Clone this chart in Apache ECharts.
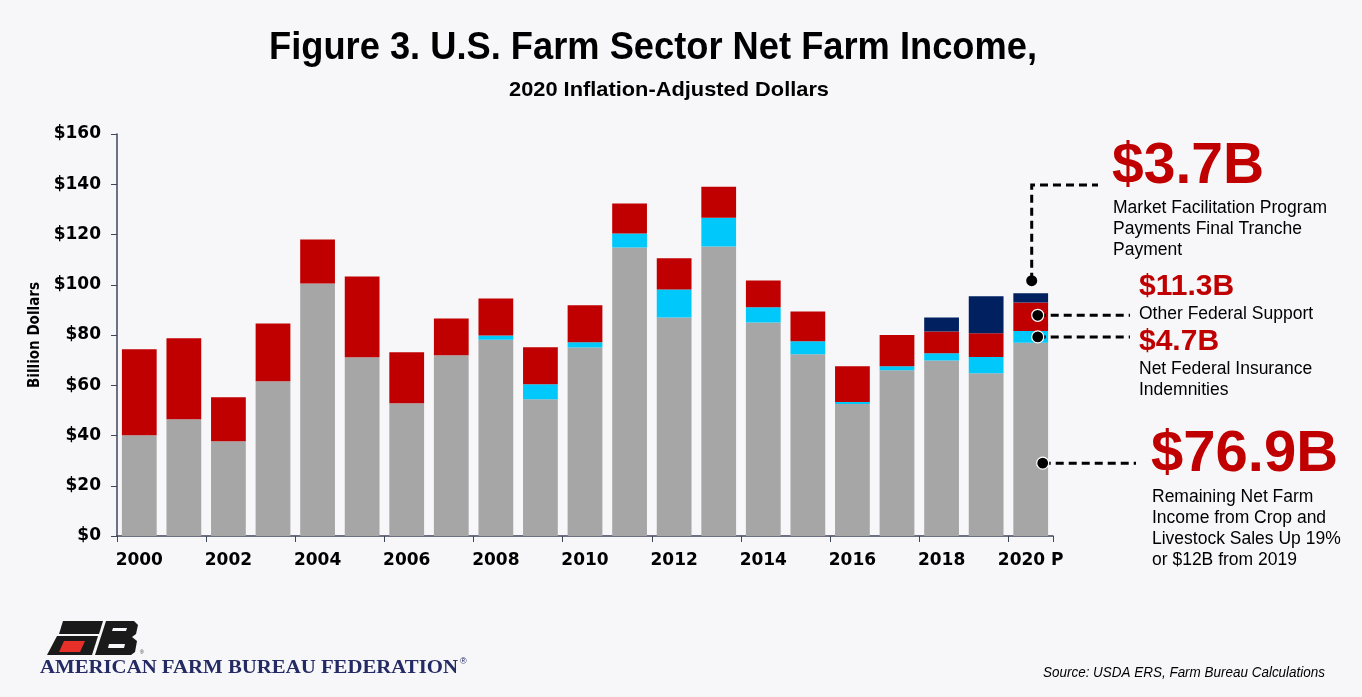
<!DOCTYPE html>
<html>
<head>
<meta charset="utf-8">
<script src="https://cdn.jsdelivr.net/npm/echarts@6/dist/echarts.min.js"></script>
<style>
  html, body { margin: 0; padding: 0; background: #f7f7f9; }
  #main { width: 1362px; height: 697px; }
</style>
</head>
<body>
<div id="main"></div>
<script>
// years on the x axis, last one is the projection
var years = ['2000','2001','2002','2003','2004','2005','2006','2007','2008','2009','2010',
             '2011','2012','2013','2014','2015','2016','2017','2018','2019','2020 P'];
// billion dollars, 2020 inflation-adjusted
var remainingIncome = [40.1, 46.5, 37.7, 61.6, 100.5, 71.1, 52.8, 71.9, 78.1, 54.4, 75.0,
                       114.8, 87.0, 115.2, 85.0, 72.3, 52.5, 66.0, 69.9, 64.8, 76.9];
var insuranceIndemnities = [0, 0, 0, 0, 0, 0, 0, 0, 1.7, 6.0, 2.1,
                            5.6, 11.1, 11.5, 6.0, 5.2, 0.8, 1.6, 2.8, 6.4, 4.7];
var otherSupport = [34.2, 32.2, 17.5, 23.0, 17.5, 32.2, 20.3, 14.7, 14.7, 14.7, 14.7,
                    11.9, 12.4, 12.3, 10.7, 11.9, 14.3, 12.4, 8.7, 9.5, 11.3];
var mfpPayments = [0, 0, 0, 0, 0, 0, 0, 0, 0, 0, 0,
                   0, 0, 0, 0, 0, 0, 0, 5.6, 14.7, 3.7];

var sans = 'Liberation Sans, Arial, sans-serif';
var wide = 'DejaVu Sans, sans-serif';
var cond = 'DejaVu Sans Condensed, DejaVu Sans, sans-serif';
var serif = 'Liberation Serif, DejaVu Serif, serif';

var chart = echarts.init(document.getElementById('main'));

// squeeze a text line to a given width (the originals use condensed faces)
var ctx = document.createElement('canvas').getContext('2d');
function squeeze(text, font, target) {
  ctx.font = font;
  return target / ctx.measureText(text).width;
}

function barSeries(name, data, color) {
  return {
    name: name,
    type: 'bar',
    stack: 'total',
    barCategoryGap: '22%',
    itemStyle: { color: color },
    data: data
  };
}

var option = {
  backgroundColor: '#f7f7f9',
  animation: false,
  grid: { left: 117, right: 309, top: 134, bottom: 161 },
  xAxis: {
    type: 'category',
    data: years,
    axisLine: { lineStyle: { color: '#3e4658', width: 1.5 } },
    axisTick: { show: true, length: 6, lineStyle: { color: '#3e4658' } },
    axisLabel: {
      interval: 1,
      margin: 16,
      fontFamily: wide, fontWeight: 'bold', fontSize: 17, color: '#000'
    }
  },
  yAxis: {
    type: 'value',
    min: 0, max: 160, interval: 20,
    name: 'Billion Dollars',
    nameLocation: 'middle',
    nameGap: 70,
    nameTextStyle: { fontFamily: cond, fontWeight: 'bold', fontSize: 15, color: '#000' },
    splitLine: { show: false },
    axisLine: { show: true, lineStyle: { color: '#3e4658', width: 1.5 } },
    axisTick: { show: true, length: 6, lineStyle: { color: '#3e4658' } },
    axisLabel: {
      margin: 16,
      formatter: function (v) { return '$' + v; },
      fontFamily: wide, fontWeight: 'bold', fontSize: 17, color: '#000'
    }
  },
  series: [
    barSeries('Remaining Net Farm Income', remainingIncome, '#a6a6a6'),
    barSeries('Net Federal Insurance Indemnities', insuranceIndemnities, '#00c8fa'),
    barSeries('Other Federal Support', otherSupport, '#c00000'),
    barSeries('Market Facilitation Program', mfpPayments, '#002060')
  ]
};
chart.setOption(option);

// annotations for the last bar, anchored with the chart's own scales
var last = years.length - 1;
var g0 = remainingIncome[last];
var g1 = g0 + insuranceIndemnities[last];
var g2 = g1 + otherSupport[last];
var g3 = g2 + mfpPayments[last];
function px(val, dx) {
  var p = chart.convertToPixel({ gridIndex: 0 }, [years[last], val]);
  return [p[0] + (dx || 0), p[1]];
}

var pMfp = px(g3 + 5, 1);
var pOther = px((g1 + g2) / 2 + 0.6, 7);
var pIns = px((g0 + g1) / 2, 7);
var pRem = px(29, 12);

var dash = { stroke: '#000', lineWidth: 3, lineDash: [8, 5] };
function dot(p, outline) {
  return { type: 'circle', shape: { cx: p[0], cy: p[1], r: outline ? 6 : 5.5 },
           style: { fill: '#000', stroke: outline ? '#fff' : null, lineWidth: 1.2 }, z: 20 };
}
function txt(x, y, text, font, size, color, weight) {
  return { type: 'text', x: x, y: y, z: 20,
           style: { text: text, fontFamily: font, fontSize: size, fill: color || '#000',
                    fontWeight: weight || 'normal', textVerticalAlign: 'middle', lineHeight: Math.round(size * 1.22) } };
}
// centred, horizontally squeezed heading line
function heading(cx, cy, text, size, target) {
  var s = squeeze(text, 'bold ' + size + 'px "Liberation Sans"', target);
  return { type: 'text', x: cx, y: cy, scaleX: s, originX: 0, z: 20,
           style: { text: text, fontFamily: sans, fontWeight: 'bold', fontSize: size, fill: '#000',
                    textAlign: 'center', textVerticalAlign: 'middle' } };
}

var red = '#c00000';
var brand = 'AMERICAN FARM BUREAU FEDERATION';
var source = 'Source: USDA ERS, Farm Bureau Calculations';
var graphics = [
  heading(653, 49, 'Figure 3. U.S. Farm Sector Net Farm Income,', 38, 768),
  heading(669, 90, '2020 Inflation-Adjusted Dollars', 21, 320),
  // MFP leader
  { type: 'polyline', shape: { points: [[pMfp[0], pMfp[1]], [pMfp[0], 185], [1098, 185]] }, style: dash, z: 19 },
  dot(pMfp, false),
  txt(1112, 167, '$3.7B', sans, 57, red, 'bold'),
  txt(1113, 229, 'Market Facilitation Program\nPayments Final Tranche\nPayment', sans, 17.5),
  // other federal support
  { type: 'line', shape: { x1: pOther[0], y1: pOther[1], x2: 1130, y2: pOther[1] }, style: dash, z: 19 },
  dot(pOther, true),
  txt(1139, 287, '$11.3B', sans, 30, red, 'bold'),
  txt(1139, 314, 'Other Federal Support', sans, 17.5),
  // insurance
  { type: 'line', shape: { x1: pIns[0], y1: pIns[1], x2: 1130, y2: pIns[1] }, style: dash, z: 19 },
  dot(pIns, true),
  txt(1139, 342, '$4.7B', sans, 30, red, 'bold'),
  txt(1139, 380, 'Net Federal Insurance\nIndemnities', sans, 17.5),
  // remaining income
  { type: 'line', shape: { x1: pRem[0], y1: pRem[1], x2: 1136, y2: pRem[1] }, style: dash, z: 19 },
  dot(pRem, true),
  txt(1151, 455, '$76.9B', sans, 58, red, 'bold'),
  txt(1152, 529, 'Remaining Net Farm\nIncome from Crop and\nLivestock Sales Up 19%\nor $12B from 2019', sans, 17.5),
  // source
  { type: 'text', x: 1325, y: 673, z: 20, scaleX: squeeze(source, 'italic 15px "Liberation Sans"', 282), originX: 0,
    style: { text: source, fontFamily: sans, fontStyle: 'italic',
             fontSize: 15, fill: '#000', textAlign: 'right', textVerticalAlign: 'middle' } },
  // logo
  { type: 'polygon', shape: { points: [[63, 621], [103, 621], [99, 634], [59, 634]] }, style: { fill: '#1a1a1a' } },
  { type: 'polygon', shape: { points: [[57, 636], [98, 636], [92, 655], [47, 655]] }, style: { fill: '#1a1a1a' } },
  { type: 'polygon', shape: { points: [[64, 641], [85, 641], [80, 652], [59, 652]] }, style: { fill: '#e8302a' } },
  { type: 'polygon', shape: { points: [[106, 621], [134, 621], [138, 625], [136, 634], [132, 637], [137, 641], [135, 652], [131, 655], [95, 655]] },
    style: { fill: '#1a1a1a' } },
  { type: 'polygon', shape: { points: [[113, 628], [127, 628], [126, 631], [112, 631]] }, style: { fill: '#f7f7f9' } },
  { type: 'polygon', shape: { points: [[109, 644], [125, 644], [124, 648], [108, 648]] }, style: { fill: '#f7f7f9' } },
  { type: 'text', x: 140, y: 650, style: { text: '®', fontSize: 5, fill: '#333', fontFamily: sans } },
  { type: 'text', x: 40, y: 668, z: 20, scaleX: squeeze(brand, 'bold 19px "Liberation Serif"', 418), originX: 0,
    style: { text: brand, fontFamily: serif, fontWeight: 'bold', fontSize: 19, fill: '#242a63', textVerticalAlign: 'middle' } },
  { type: 'text', x: 460, y: 662, z: 20,
    style: { text: '®', fontFamily: sans, fontSize: 9, fill: '#242a63', textVerticalAlign: 'middle' } }
];
chart.setOption({ graphic: graphics });
</script>
</body>
</html>
